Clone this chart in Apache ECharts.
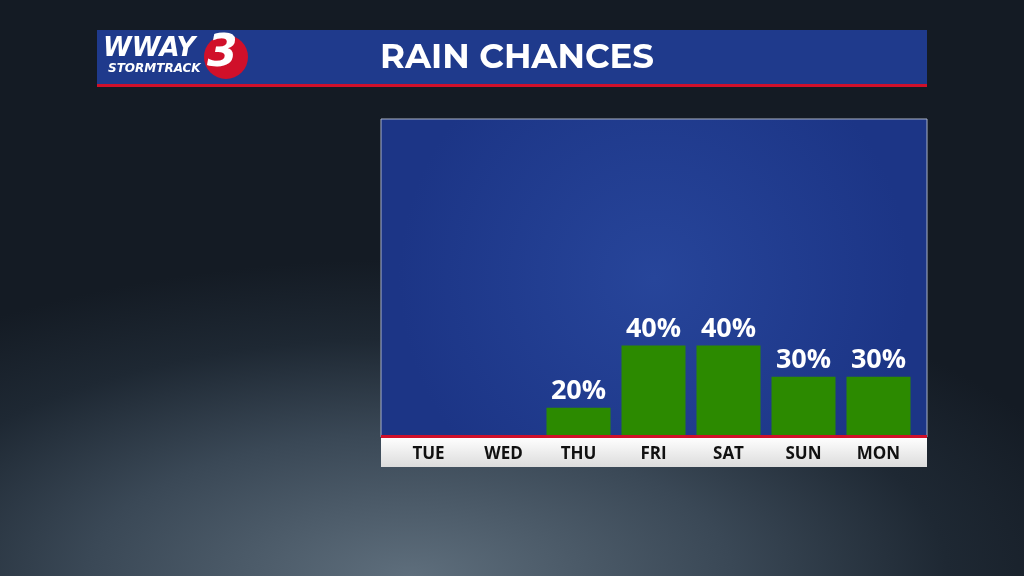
<!DOCTYPE html>
<html><head><meta charset="utf-8">
<script src="https://cdn.jsdelivr.net/npm/echarts@6/dist/echarts.min.js"></script>
<style>
html,body{margin:0;padding:0;width:1024px;height:576px;overflow:hidden;
background:radial-gradient(ellipse 70% 55% at 40% 100%, #5e6e7c 0%, #3a4856 45%, #1e2833 75%, #141b24 100%);}
#c{width:1024px;height:576px;}
</style></head><body><div id="c"></div>
<script>
const categories = ['TUE','WED','THU','FRI','SAT','SUN','MON'];
const rainChance = [0, 0, 20, 40, 40, 30, 30];
const title = 'RAIN CHANCES';

const chart = echarts.init(document.getElementById('c'));
chart.setOption({
  animation:false,
  title:{text:title,left:512,top:36,textAlign:'center',
    textStyle:{color:'#fff',fontSize:34,fontWeight:'bold',fontFamily:'Montserrat, Open Sans, sans-serif'}},
  graphic:[
    {type:'rect',z:-1,shape:{x:97,y:30,width:830,height:54},style:{fill:'#1f3a8c'}},
    {type:'rect',z:-1,shape:{x:97,y:84,width:830,height:3},style:{fill:'#d0102a'}},
    {type:'rect',z:-1,shape:{x:381,y:119,width:546,height:318},
      style:{stroke:'#aab4c8',lineWidth:1,fill:{type:'radial',x:0.5,y:0.5,r:0.8,colorStops:[{offset:0,color:'#27459a'},{offset:1,color:'#1c3586'}]}}},
    {type:'rect',z:-1,shape:{x:381,y:437,width:546,height:30},
      style:{fill:{type:'linear',x:0,y:0,x2:0,y2:1,colorStops:[{offset:0,color:'#ffffff'},{offset:1,color:'#dcdcdc'}]}}},
    {type:'rect',z:5,shape:{x:381,y:435,width:546,height:3},style:{fill:'#d0102a'}},
    {type:'circle',z:5,shape:{cx:226,cy:57,r:22},style:{fill:'#d0102a'}},
    {type:'text',z:6,left:207,top:33,style:{text:'3',fill:'#fff',font:'italic 900 44px "DejaVu Sans", sans-serif'}},
    {type:'text',z:7,left:103,top:36,style:{text:'WWAY',fill:'#fff',font:'italic 900 26px "DejaVu Sans", sans-serif'}},
    {type:'text',z:7,left:108,top:63,style:{text:'STORMTRACK',fill:'#fff',font:'italic bold 12px "DejaVu Sans", sans-serif'}}
  ],
  grid:{left:391,right:108,top:119,bottom:139},
  xAxis:{type:'category',data:categories,axisLine:{show:false},axisTick:{show:false},
    axisLabel:{margin:9,color:'#111',fontSize:17,fontWeight:'bold',fontFamily:'Open Sans, sans-serif',verticalAlign:'top'}},
  yAxis:{type:'value',min:10.6,max:112.9,show:false,splitLine:{show:false}},
  series:[{type:'bar',data:rainChance,barWidth:64,clip:true,
    itemStyle:{color:'#2c8a00'},
    label:{show:true,position:'top',distance:3,color:'#fff',fontSize:27,fontWeight:'bold',fontFamily:'Open Sans, sans-serif',
      formatter:p=>p.value>0?p.value+'%':''}}]
});
</script></body></html>
